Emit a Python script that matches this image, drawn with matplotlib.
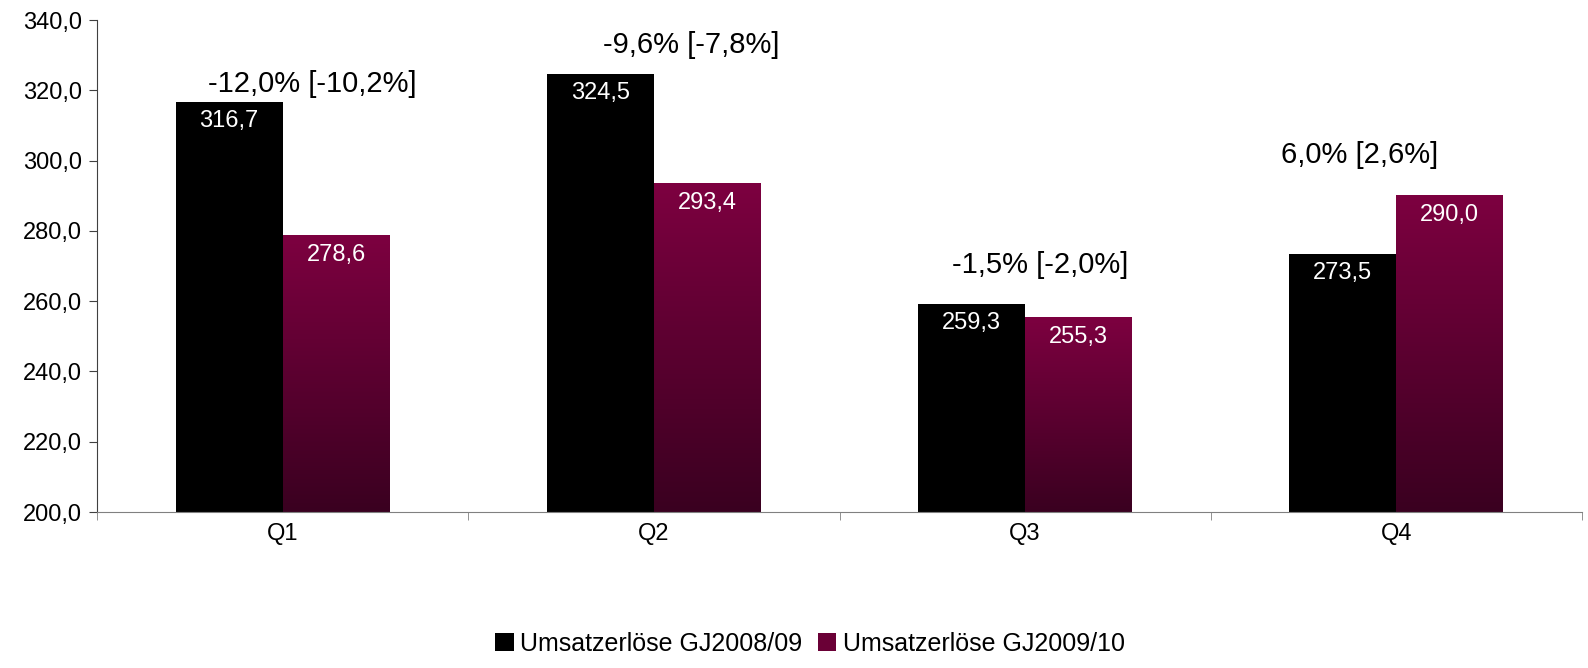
import matplotlib
matplotlib.use("Agg")
import matplotlib.pyplot as plt
import numpy as np
from matplotlib.colors import LinearSegmentedColormap
from matplotlib.patches import Patch

plt.rcParams['font.family'] = ['Liberation Sans', 'DejaVu Sans']

categories = ["Q1", "Q2", "Q3", "Q4"]
series_names = ["Umsatzerlöse GJ2008/09", "Umsatzerlöse GJ2009/10"]
values_0809 = [316.7, 324.5, 259.3, 273.5]
values_0910 = [278.6, 293.4, 255.3, 290.0]
change_labels = ["-12,0% [-10,2%]", "-9,6% [-7,8%]", "-1,5% [-2,0%]", "6,0% [2,6%]"]
change_label_y = [321.7, 332.9, 270.4, 301.7]
change_label_x = [0.08, 0.10, 0.04, -0.10]

yticks = [200, 220, 240, 260, 280, 300, 320, 340]

def fmt(v):
    return f"{v:.1f}".replace(".", ",")

fig = plt.figure(figsize=(15.88, 6.68), dpi=100)
ax = fig.add_axes([97/1588, 1 - 512/668, (1582-97)/1588, (512-20)/668])

x = np.arange(len(categories))
w = 0.288
ymin, ymax = 200, 340

cmap = LinearSegmentedColormap.from_list("purp", ["#3a0020", "#7d0040"])
grad = np.linspace(0, 1, 256).reshape(-1, 1)

for i in range(len(categories)):
    v0 = values_0809[i]
    v1 = values_0910[i]
    ax.bar(x[i] - w/2, v0 - ymin, bottom=ymin, width=w, color="black", zorder=2)
    left = x[i]
    ax.imshow(grad, cmap=cmap, origin="lower", aspect="auto",
              extent=[left, left + w, ymin, v1], zorder=2, interpolation="bilinear")
    ax.text(x[i] - w/2, v0 - 5.4, fmt(v0), ha="center", va="center", color="white", fontsize=17, zorder=3)
    ax.text(x[i] + w/2, v1 - 5.4, fmt(v1), ha="center", va="center", color="white", fontsize=17, zorder=3)
    ax.text(x[i] + change_label_x[i], change_label_y[i], change_labels[i], ha="center", va="center",
            color="black", fontsize=21, zorder=3)

ax.set_xlim(-0.5, len(categories) - 0.5)
ax.set_ylim(ymin, ymax)
ax.set_yticks(yticks)
ax.set_yticklabels([fmt(t) for t in yticks], fontsize=17)
ax.set_xticks(x)
ax.set_xticklabels(categories, fontsize=17)
ax.tick_params(axis="x", length=0, pad=8)
ax.set_xticks(np.arange(-0.5, len(categories), 1.0), minor=True)
ax.tick_params(axis="x", which="minor", length=6, color="#808080", direction="out")
ax.tick_params(axis="y", length=6, color="#404040", direction="out", pad=5)

for s in ["top", "right"]:
    ax.spines[s].set_visible(False)
ax.spines["left"].set_color("#404040")
ax.spines["bottom"].set_color("#808080")

handles = [Patch(facecolor="black"), Patch(facecolor="#6a0036")]
fig.legend(handles, series_names, loc="center", bbox_to_anchor=(810/1588, 1 - 644/668),
           ncol=2, frameon=False, fontsize=18, handlelength=0.75, handleheight=0.75,
           handletextpad=0.25, columnspacing=0.6)

fig.savefig("out.png", dpi=100)
